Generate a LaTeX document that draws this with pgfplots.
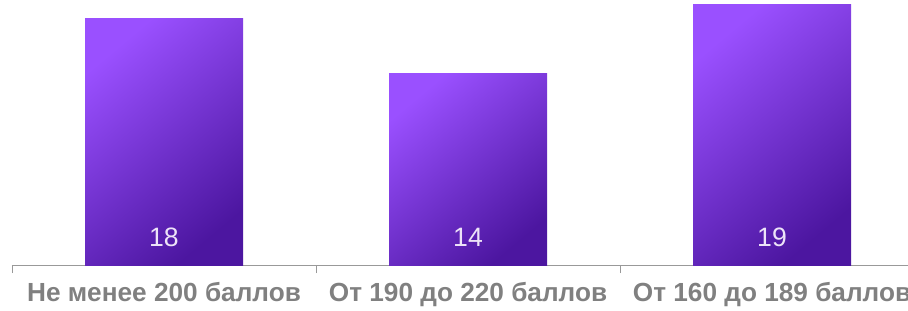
\documentclass[border=0pt]{standalone}
\usepackage{fontspec}
\setmainfont{Liberation Sans}
\usepackage{pgfplots}
\pgfplotsset{compat=1.18}
\definecolor{barTop}{HTML}{9A50FF}
\definecolor{barBot}{HTML}{4C16A0}
\definecolor{lblGray}{HTML}{808080}
\definecolor{valTxt}{HTML}{EDE3F8}
\begin{document}
\begin{tikzpicture}
\clip (0,0) rectangle (454pt,155pt);
\path[use as bounding box] (0,0) rectangle (454pt,155pt);
\begin{axis}[
  at={(6pt,22.5pt)}, anchor=south west,
  scale only axis,
  x=152pt, y=6.85pt,
  xmin=-0.5, xmax=2.5, ymin=0, ymax=19,
  axis x line=bottom, axis y line=none,
  x axis line style={-, draw=gray!80},
  xtick={0,1,2},
  xticklabels={Не менее 200 баллов, От 190 до 220 баллов, От 160 до 189 баллов},
  major tick length=0pt,
  minor xtick={-0.5,0.5,1.5,2.5},
  minor tick length=4pt,
  tick align=outside,
  minor tick style={draw=gray!80},
  xticklabel style={font=\fontsize{13.1pt}{16pt}\selectfont\bfseries, text=lblGray, anchor=base, yshift=-18.3pt},
  /pgf/number format/assume math mode=true,
  clip=false,
  cycle list={{mark=none}},
  every axis plot/.append style={ybar, bar width=79pt, bar shift=0pt, draw=none,
    top color=barTop, bottom color=barBot, shading angle=40,
    visualization depends on={y \as \rawy},
    nodes near coords,
    every node near coord/.append style={font=\fontsize{13.3pt}{16pt}\selectfont, text=valTxt, anchor=center, yshift={14pt-\rawy*6.85pt}}},
]
\addplot coordinates {(0,18)};
\addplot coordinates {(1,14)};
\addplot coordinates {(2,19)};
\end{axis}
\end{tikzpicture}
\end{document}
